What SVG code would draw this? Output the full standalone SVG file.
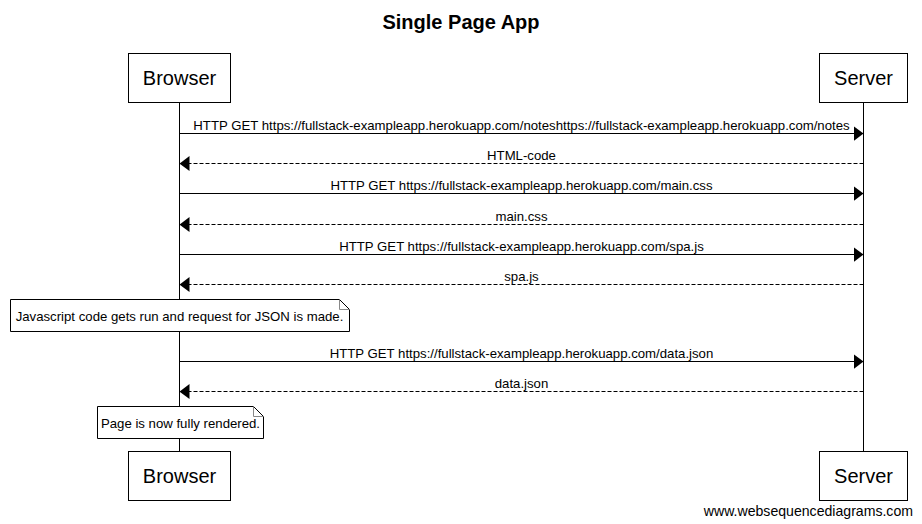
<svg xmlns="http://www.w3.org/2000/svg" width="922" height="524" viewBox="0 0 922 524">
<style>
text{font-family:"Liberation Sans",Arial,sans-serif;fill:#000}
.title{font-size:20px;font-weight:bold;text-anchor:middle}
.pbox{fill:#fff;stroke:#000;stroke-width:1}
.plabel{font-size:20px;text-anchor:middle}
.life{stroke:#000;stroke-width:1}
.msg{stroke:#000;stroke-width:1;fill:none}
.ret{stroke-dasharray:4,2}
.mlabel{font-size:13.2px;text-anchor:middle}
.note{fill:#fff;stroke:#000;stroke-width:1}
.fold{fill:none;stroke:#888;stroke-width:1}
.ntext{font-size:13.2px;text-anchor:middle}
.wm{font-size:14.1px;text-anchor:end}
</style>
<defs>
<marker id="head" markerUnits="userSpaceOnUse" markerWidth="10" markerHeight="15" refX="10" refY="7.5" orient="auto">
<path d="M0,0 L10,7.5 L0,15 z" fill="#000"/>
</marker>
</defs>
<rect width="922" height="524" fill="#fff"/>
<text class="title" x="461" y="29">Single Page App</text>
<g id="lifelines">
<line class="life" x1="179.5" y1="102.5" x2="179.5" y2="451.5"/>
<line class="life" x1="863.5" y1="102.5" x2="863.5" y2="451.5"/>
</g>
<g id="browser">
<rect class="pbox" x="128.5" y="53.5" width="102" height="49"/>
<text class="plabel" x="179.5" y="85">Browser</text>
</g>
<g id="server">
<rect class="pbox" x="819.5" y="53.5" width="88" height="49"/>
<text class="plabel" x="863.5" y="85">Server</text>
</g>
<g id="browser-bottom">
<rect class="pbox" x="128.5" y="451.5" width="102" height="49"/>
<text class="plabel" x="179.5" y="483">Browser</text>
</g>
<g id="server-bottom">
<rect class="pbox" x="819.5" y="451.5" width="88" height="49"/>
<text class="plabel" x="863.5" y="483">Server</text>
</g>
<g id="connectors">
<line class="msg" x1="179.5" y1="133.5" x2="863.5" y2="133.5" marker-end="url(#head)"/>
<line class="msg ret" x1="863.5" y1="163.5" x2="179.5" y2="163.5" marker-end="url(#head)"/>
<line class="msg" x1="179.5" y1="193.5" x2="863.5" y2="193.5" marker-end="url(#head)"/>
<line class="msg ret" x1="863.5" y1="224.5" x2="179.5" y2="224.5" marker-end="url(#head)"/>
<line class="msg" x1="179.5" y1="254.5" x2="863.5" y2="254.5" marker-end="url(#head)"/>
<line class="msg ret" x1="863.5" y1="284.5" x2="179.5" y2="284.5" marker-end="url(#head)"/>
<line class="msg" x1="179.5" y1="361.5" x2="863.5" y2="361.5" marker-end="url(#head)"/>
<line class="msg ret" x1="863.5" y1="391.5" x2="179.5" y2="391.5" marker-end="url(#head)"/>
<text class="mlabel" x="521.5" y="129.5">HTTP GET https://fullstack-exampleapp.herokuapp.com/noteshttps://fullstack-exampleapp.herokuapp.com/notes</text>
<text class="mlabel" x="521.5" y="159.5">HTML-code</text>
<text class="mlabel" x="521.5" y="189.5">HTTP GET https://fullstack-exampleapp.herokuapp.com/main.css</text>
<text class="mlabel" x="521.5" y="220.5">main.css</text>
<text class="mlabel" x="521.5" y="250.5">HTTP GET https://fullstack-exampleapp.herokuapp.com/spa.js</text>
<text class="mlabel" x="521.5" y="280.5">spa.js</text>
<text class="mlabel" x="521.5" y="357.5">HTTP GET https://fullstack-exampleapp.herokuapp.com/data.json</text>
<text class="mlabel" x="521.5" y="387.5">data.json</text>
</g>
<g id="note1">
<path class="note" d="M10.5,299.5 H339.5 L349.5,309.5 V331.5 H10.5 Z"/>
<path class="fold" d="M339.5,299.5 V309.5 H349.5"/>
<text class="ntext" x="179.5" y="320.5">Javascript code gets run and request for JSON is made.</text>
</g>
<g id="note2">
<path class="note" d="M97.5,406.5 H253.5 L263.5,416.5 V438.5 H97.5 Z"/>
<path class="fold" d="M253.5,406.5 V416.5 H263.5"/>
<text class="ntext" x="180.5" y="427.5">Page is now fully rendered.</text>
</g>
<text class="wm" x="913" y="516">www.websequencediagrams.com</text>
</svg>
